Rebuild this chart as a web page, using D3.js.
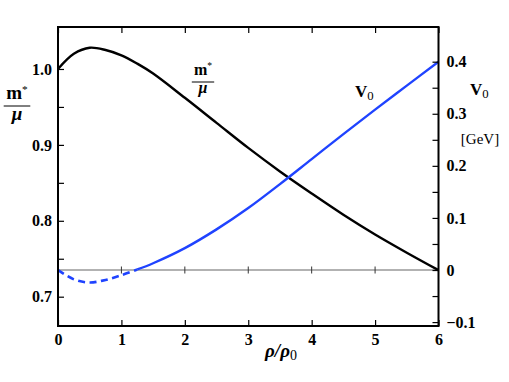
<!DOCTYPE html>
<html>
<head>
<meta charset="utf-8">
<script src="https://cdn.jsdelivr.net/npm/d3@7"></script>
<style>
  body { margin: 0; background: #fff; }
  svg text { font-family: 'Liberation Serif', 'DejaVu Serif', serif; }
</style>
</head>
<body>
<svg id="chart" width="509" height="382"></svg>
<script>
// density rho/rho0
let rho = [0, 0.25, 0.5, 0.75, 1.0, 1.25, 1.5, 2.0, 2.5, 3.0, 3.5, 4.0, 4.5, 5.0, 5.5, 6.0]
// effective mass ratio m*/mu (left axis)
let massRatio = [1.000, 1.020, 1.028, 1.025, 1.018, 1.007, 0.994, 0.962, 0.929, 0.896, 0.865, 0.836, 0.808, 0.782, 0.758, 0.735]
// vector potential V0 in GeV (right axis)
let v0 = [0.000, -0.018, -0.024, -0.019, -0.010, 0.001, 0.013, 0.042, 0.078, 0.119, 0.165, 0.213, 0.261, 0.308, 0.354, 0.400]
let dashedUpTo = 1.25

let xTicks = [0, 1, 2, 3, 4, 5, 6]
let leftTicks = [0.7, 0.8, 0.9, 1.0]
let leftMinor = [0.75, 0.85, 0.95]
let rightTicks = [-0.1, 0, 0.1, 0.2, 0.3, 0.4]
let rightMinor = [-0.05, 0.05, 0.15, 0.25, 0.35]

let svg = d3.select('#chart')
let pLeft = 58, pRight = 438.5, pTop = 27, pBottom = 326

let x = d3.scaleLinear().domain([0, 6]).range([pLeft, pRight])
let yL = d3.scaleLinear().domain([0.6614, 1.0553]).range([pBottom, pTop])
let yR = d3.scaleLinear().domain([-0.1075, 0.4666]).range([pBottom, pTop])

let blue = '#1f43ff'
let serif = "'Liberation Serif', 'DejaVu Serif', serif"
let fmt = function (d) { return d < 0 ? '\u2212' + Math.abs(d) : (d === 0 ? '0' : d3.format('.1f')(d)) }

// zero line of V0 with small crossing ticks
let zeroY = yR(0)
svg.append('line')
  .attr('x1', pLeft).attr('x2', pRight)
  .attr('y1', zeroY).attr('y2', zeroY)
  .attr('stroke', '#999').attr('stroke-width', 1.5)
svg.append('g').selectAll('line')
  .data([1, 2, 3, 4, 5])
  .enter().append('line')
  .attr('x1', function (d) { return x(d) }).attr('x2', function (d) { return x(d) })
  .attr('y1', zeroY - 3.5).attr('y2', zeroY + 3.5)
  .attr('stroke', '#333').attr('stroke-width', 1)

// curves
let mLine = d3.line()
  .x(function (d, i) { return x(rho[i]) })
  .y(function (d) { return yL(d) })
  .curve(d3.curveCatmullRom.alpha(0.5))

svg.append('path')
  .attr('d', mLine(massRatio))
  .attr('fill', 'none').attr('stroke', '#000').attr('stroke-width', 2.4)

let vPts = rho.map(function (r, i) { return [r, v0[i]] })
let vLine = d3.line()
  .x(function (d) { return x(d[0]) })
  .y(function (d) { return yR(d[1]) })
  .curve(d3.curveCatmullRom.alpha(0.5))

svg.append('path')
  .attr('d', vLine(vPts.filter(function (d) { return d[0] <= dashedUpTo })))
  .attr('fill', 'none').attr('stroke', blue).attr('stroke-width', 2.6)
  .attr('stroke-dasharray', '7,4.5')
svg.append('path')
  .attr('d', vLine(vPts.filter(function (d) { return d[0] >= dashedUpTo })))
  .attr('fill', 'none').attr('stroke', blue).attr('stroke-width', 2.4)

// axes
function styleAxis(g) {
  g.attr('font-family', serif).attr('font-size', 16)
  g.select('.domain').remove()
  g.selectAll('.tick line').attr('stroke', '#000').attr('stroke-width', 1.2)
  g.selectAll('.tick text')
    .attr('fill', '#000')
    .attr('font-weight', 'bold')
}

svg.append('g').attr('transform', 'translate(0,' + pBottom + ')')
  .call(d3.axisBottom(x).tickValues(xTicks).tickSize(-6).tickPadding(8).tickFormat(d3.format('d')))
  .call(styleAxis)
svg.append('g').attr('transform', 'translate(0,' + pTop + ')')
  .call(d3.axisTop(x).tickValues(xTicks).tickSize(-6).tickFormat(''))
  .call(styleAxis)
svg.append('g').attr('transform', 'translate(' + pLeft + ',0)')
  .call(d3.axisLeft(yL).tickValues(leftTicks).tickSize(-6).tickPadding(6).tickFormat(d3.format('.1f')))
  .call(styleAxis)
svg.append('g').attr('transform', 'translate(' + pLeft + ',0)')
  .call(d3.axisLeft(yL).tickValues(leftMinor).tickSize(-6).tickFormat(''))
  .call(styleAxis)
svg.append('g').attr('transform', 'translate(' + pRight + ',0)')
  .call(d3.axisRight(yR).tickValues(rightTicks).tickSize(-6).tickPadding(8).tickFormat(fmt))
  .call(styleAxis)
svg.append('g').attr('transform', 'translate(' + pRight + ',0)')
  .call(d3.axisRight(yR).tickValues(rightMinor).tickSize(-6).tickFormat(''))
  .call(styleAxis)

// frame
svg.append('rect')
  .attr('x', pLeft).attr('y', pTop)
  .attr('width', pRight - pLeft).attr('height', pBottom - pTop)
  .attr('fill', 'none').attr('stroke', '#000').attr('stroke-width', 2)

// labels
function fraction(cx, yTop, size) {
  let g = svg.append('g')
  let num = g.append('text').attr('x', cx).attr('y', yTop)
    .attr('text-anchor', 'middle').style('font-size', size + 'px').style('font-weight', 'bold')
  num.append('tspan').text('m')
  num.append('tspan').attr('dy', -6).style('font-size', (size * 0.6) + 'px').style('font-weight', 'normal').text('*')
  g.append('line')
    .attr('x1', cx - size * 0.7).attr('x2', cx + size * 0.7)
    .attr('y1', yTop + 7).attr('y2', yTop + 7)
    .attr('stroke', '#000').attr('stroke-width', 1)
  g.append('text').attr('x', cx).attr('y', yTop + size + 2)
    .attr('text-anchor', 'middle').style('font-size', size + 'px').style('font-weight', 'bold')
    .style('font-style', 'italic').text('\u03bc')
}
fraction(17, 99, 19)
fraction(203, 75, 16)

function vLabel(xPos, yPos, size) {
  let t = svg.append('text').attr('x', xPos).attr('y', yPos)
    .style('font-size', size + 'px').style('font-weight', 'bold')
  t.append('tspan').text('V')
  t.append('tspan').attr('dy', 3).style('font-size', (size * 0.75) + 'px').style('font-weight', 'normal').text('0')
}
vLabel(355, 97, 17)
vLabel(470, 95, 17)

svg.append('text').attr('x', 480).attr('y', 144)
  .attr('text-anchor', 'middle').style('font-size', '15px').text('[GeV]')

let xl = svg.append('text').attr('x', 281).attr('y', 357)
  .attr('text-anchor', 'middle').style('font-size', '19px').style('font-weight', 'bold').style('font-style', 'italic')
xl.append('tspan').text('\u03c1/\u03c1')
xl.append('tspan').attr('dy', 3).style('font-size', '14px').style('font-style', 'normal').style('font-weight', 'normal').text('0')
</script>
</body>
</html>
